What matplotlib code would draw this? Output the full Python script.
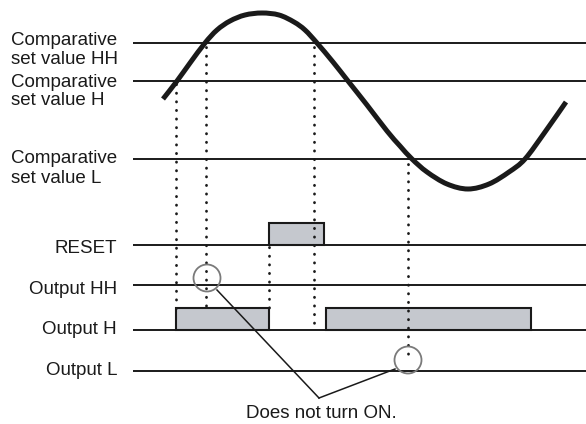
import matplotlib
matplotlib.use('Agg')
import matplotlib.pyplot as plt
from matplotlib.patches import Rectangle, Circle, PathPatch
from matplotlib.path import Path

plt.rcParams['font.family'] = ['Liberation Sans', 'DejaVu Sans']

# Chart is laid out in pixel units (x right, y down)
W, H = 586, 424
line_start = 133

# Analog input curve
curve_x = [163, 177, 190, 205, 217, 230, 245, 262, 279, 294, 305, 317,
           333, 348, 367, 387, 400, 412, 427, 447, 468, 489, 509, 525, 545, 566]
curve_y = [99, 81, 63, 43, 30, 21, 15, 13, 15, 22, 30, 43,
           62, 81, 105, 131, 146, 159, 172, 184, 189, 184, 172, 159, 132, 102]

# Comparative set values
set_labels = ['Comparative\nset value HH', 'Comparative\nset value H', 'Comparative\nset value L']
set_y = [43, 81, 159]
set_label_baselines = [(45, 64), (87, 105), (163, 183)]

# Output rows
out_labels = ['RESET', 'Output HH', 'Output H', 'Output L']
out_y = [245, 285, 330, 371]
out_label_baseline = [253, 294, 334, 375]

# ON intervals (x start, x end) per row; pulse height in px
on_spans = {
    'RESET': [(269, 324)],
    'Output HH': [],
    'Output H': [(176, 269), (326, 531)],
    'Output L': [],
}
pulse_h = 22

# Dotted guide lines: x, top, bottom
guide_x = [176, 206, 269, 314, 408]
guide_top = [84, 47, 247, 47, 164]
guide_bot = [308, 308, 308, 328, 358]

# "Does not turn ON." markers
mark_x = [207, 408]
mark_y = [278, 360]
leader_from = [(217, 290), (395, 369)]
leader_vertex = (319, 398)


def smooth_path(xs, ys):
    # Catmull-Rom through the read points, as cubic bezier segments
    pts = list(zip(xs, ys))
    verts = [pts[0]]
    codes = [Path.MOVETO]
    n = len(pts)
    for i in range(n - 1):
        p0 = pts[max(i - 1, 0)]
        p1 = pts[i]
        p2 = pts[i + 1]
        p3 = pts[min(i + 2, n - 1)]
        c1 = (p1[0] + (p2[0] - p0[0]) / 6, p1[1] + (p2[1] - p0[1]) / 6)
        c2 = (p2[0] - (p3[0] - p1[0]) / 6, p2[1] - (p3[1] - p1[1]) / 6)
        verts += [c1, c2, p2]
        codes += [Path.CURVE4] * 3
    return Path(verts, codes)


fig = plt.figure(figsize=(W / 100, H / 100), dpi=100)
ax = fig.add_axes([0, 0, 1, 1])
ax.set_xlim(0, W)
ax.set_ylim(H, 0)
ax.axis('off')

fs = 13.5
ink = '#1a1a1a'

# set value lines + labels
for lab, y, (b1, b2) in zip(set_labels, set_y, set_label_baselines):
    ax.plot([line_start, W], [y, y], color=ink, lw=1.4, solid_capstyle='butt')
    l1, l2 = lab.split('\n')
    ax.text(11, b1, l1, fontsize=fs, va='baseline', ha='left', color=ink)
    ax.text(11, b2, l2, fontsize=fs, va='baseline', ha='left', color=ink)

# output rows
for lab, y, b in zip(out_labels, out_y, out_label_baseline):
    ax.plot([line_start, W], [y, y], color=ink, lw=1.4, solid_capstyle='butt')
    ax.text(117, b, lab, fontsize=fs, va='baseline', ha='right', color=ink)
    for x0, x1 in on_spans[lab]:
        ax.add_patch(Rectangle((x0, y - pulse_h), x1 - x0, pulse_h,
                               facecolor='#c5c8ce', edgecolor=ink, lw=1.5, zorder=3))

# dotted guides
for x, t, b in zip(guide_x, guide_top, guide_bot):
    ax.plot([x, x], [t, b], color=ink, lw=2.0,
            linestyle=(0, (0.1, 3.0)), dash_capstyle='round', zorder=4)

# input curve
ax.add_patch(PathPatch(smooth_path(curve_x, curve_y), facecolor='none',
                       edgecolor=ink, lw=3.6, capstyle='butt', zorder=5))

# circles and leader lines
for cx, cy in zip(mark_x, mark_y):
    ax.add_patch(Circle((cx, cy), 13.5, facecolor='none', edgecolor='#7a7a7a', lw=1.3, zorder=6))
for (x0, y0) in leader_from:
    ax.plot([x0, leader_vertex[0]], [y0, leader_vertex[1]], color=ink, lw=1.1, zorder=6)

ax.text(321, 418, 'Does not turn ON.', fontsize=fs, va='baseline', ha='center', color=ink)

fig.savefig('out.png', dpi=100)
